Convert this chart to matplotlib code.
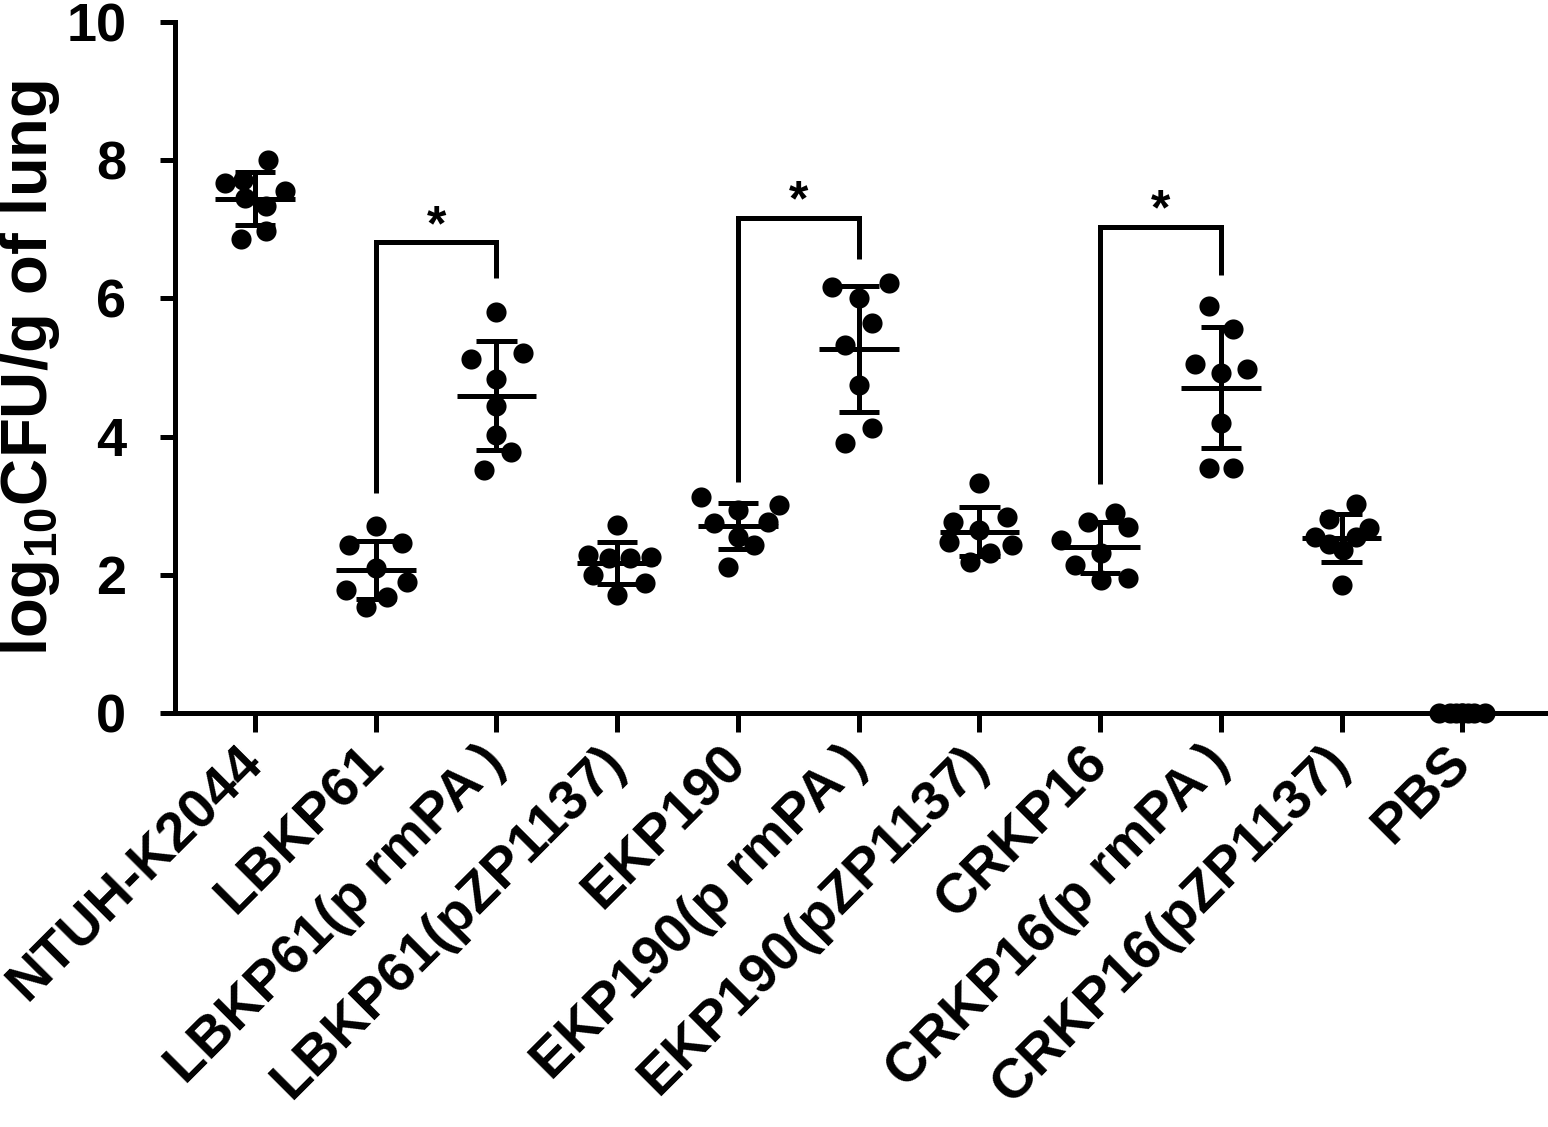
import matplotlib
matplotlib.use("Agg")
import matplotlib.pyplot as plt
import numpy as np

plt.rcParams["font.family"] = ["Liberation Sans", "DejaVu Sans"]
plt.rcParams["mathtext.fontset"] = "custom"
plt.rcParams["mathtext.rm"] = "Liberation Sans:bold"
plt.rcParams["mathtext.bf"] = "Liberation Sans:bold"
plt.rcParams["mathtext.default"] = "rm"

# log10 CFU/g of lung, one value per mouse
groups = [
    "NTUH-K2044", "LBKP61", "LBKP61(p rmPA\u2009)", "LBKP61(pZP1137)",
    "EKP190", "EKP190(p rmPA\u2009)", "EKP190(pZP1137)",
    "CRKP16", "CRKP16(p rmPA\u2009)", "CRKP16(pZP1137)", "PBS",
]
ntuh = [8.01, 7.67, 7.72, 7.55, 7.45, 7.33, 6.97, 6.86]
lbkp61 = [2.70, 2.43, 2.46, 2.10, 1.78, 1.90, 1.68, 1.54]
lbkp61_rmpa = [5.81, 5.13, 5.21, 4.84, 4.44, 4.03, 3.77, 3.52]
lbkp61_pzp = [2.72, 2.29, 2.24, 2.24, 2.26, 2.00, 1.88, 1.71]
ekp190 = [3.13, 3.01, 2.94, 2.75, 2.77, 2.55, 2.43, 2.12]
ekp190_rmpa = [6.16, 6.23, 6.01, 5.65, 5.33, 4.75, 4.13, 3.91]
ekp190_pzp = [3.33, 2.77, 2.84, 2.65, 2.48, 2.43, 2.32, 2.19]
crkp16 = [2.89, 2.76, 2.69, 2.50, 2.31, 2.14, 1.93, 1.96]
crkp16_rmpa = [5.89, 5.55, 5.05, 4.98, 4.92, 4.19, 3.55, 3.55]
crkp16_pzp = [3.02, 2.81, 2.68, 2.54, 2.54, 2.45, 2.36, 1.85]
pbs = [0, 0, 0, 0, 0, 0, 0, 0]
values = [ntuh, lbkp61, lbkp61_rmpa, lbkp61_pzp, ekp190, ekp190_rmpa,
          ekp190_pzp, crkp16, crkp16_rmpa, crkp16_pzp, pbs]

# horizontal scatter of the dots (layout only, in category units)
jitter = [
    [0.11, -0.25, -0.10, 0.25, -0.08, 0.09, 0.09, -0.12],
    [0.00, -0.22, 0.22, 0.00, -0.25, 0.26, 0.09, -0.08],
    [0.00, -0.21, 0.22, 0.00, 0.00, 0.00, 0.12, -0.10],
    [0.00, -0.24, -0.07, 0.11, 0.28, -0.20, 0.23, 0.00],
    [-0.31, 0.34, 0.00, -0.20, 0.25, 0.00, 0.13, -0.08],
    [-0.22, 0.25, 0.00, 0.11, -0.11, 0.00, 0.11, -0.11],
    [0.00, -0.22, 0.23, 0.00, -0.25, 0.27, 0.09, -0.08],
    [0.12, -0.10, 0.23, -0.32, 0.01, -0.21, 0.01, 0.23],
    [-0.10, 0.10, -0.21, 0.22, 0.00, 0.00, -0.10, 0.10],
    [0.12, -0.10, 0.23, -0.22, 0.12, -0.10, 0.01, 0.00],
    [-0.19, -0.10, -0.05, 0.00, 0.05, 0.10, 0.19, 0.00],
]

# significance brackets: (left group, right group, left foot, top, right foot)
brackets = [(1, 2, 3.19, 6.81, 6.29), (4, 5, 3.35, 7.17, 6.57), (7, 8, 3.32, 7.04, 6.34)]

fig = plt.figure(figsize=(15.48, 11.27), dpi=100)
ax = fig.add_axes([175 / 1548, 414 / 1127, 1373 / 1548, 691 / 1127])

lw = 3.6
for i, vals in enumerate(values):
    v = np.array(vals, dtype=float)
    x = i + np.array(jitter[i])
    ax.scatter(x, v, s=210, color="black", zorder=3, clip_on=False, linewidths=0)
    if v.std() > 0:
        m = v.mean()
        sd = v.std(ddof=1)
        ax.hlines(m, i - 0.33, i + 0.33, color="black", lw=lw, zorder=4)
        ax.hlines([m - sd, m + sd], i - 0.167, i + 0.167, color="black", lw=lw, zorder=4)
        ax.vlines(i, m - sd, m + sd, color="black", lw=lw, zorder=4)

for a, b, ya, top, yb in brackets:
    ax.plot([a, a, b, b], [ya, top, top, yb], color="black", lw=lw,
            solid_joinstyle="miter", solid_capstyle="butt", zorder=2)
    ax.text((a + b) / 2, top + 0.22, "*", ha="center", va="center",
            fontsize=36, fontweight="bold")

ax.set_xlim(-0.663, 10.71)
ax.set_ylim(0, 10)
ax.set_yticks([0, 2, 4, 6, 8, 10])
ax.set_xticks(range(len(groups)))
ax.set_xticklabels(groups, rotation=45, ha="right", va="center",
                   rotation_mode="anchor", fontsize=40, fontweight="bold")
for lab in ax.get_yticklabels():
    lab.set_fontsize(39)
    lab.set_fontweight("bold")

ax.spines["top"].set_visible(False)
ax.spines["right"].set_visible(False)
ax.spines["left"].set_linewidth(lw)
ax.spines["bottom"].set_linewidth(lw)
ax.tick_params(axis="y", length=11, width=lw, pad=24)
ax.tick_params(axis="x", length=14, width=lw, pad=16)

ax.set_ylabel(r"log$_{10}$CFU/g of lung", fontsize=47, fontweight="bold", labelpad=3)

fig.savefig("out.png", dpi=100)
